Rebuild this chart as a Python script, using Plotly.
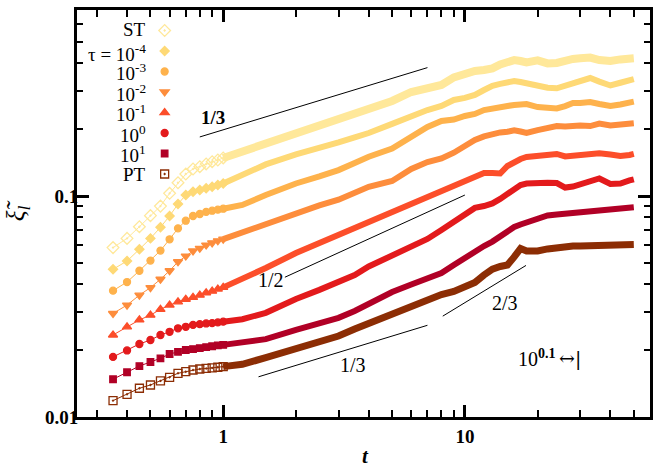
import math
import plotly.graph_objects as go

# ---------------- data ----------------
labels = ["ST", "τ = 10<sup>-4</sup>", "10<sup>-3</sup>", "10<sup>-2</sup>",
          "10<sup>-1</sup>", "10<sup>0</sup>", "10<sup>1</sup>", "PT"]

t_early = [0.35, 0.40, 0.45, 0.50, 0.55, 0.60, 0.65, 0.70, 0.75, 0.80, 0.85, 0.90, 0.95, 1.00]
t_late = [1.0, 1.2, 1.5, 2, 2.5, 3, 3.5, 4, 5, 6, 7, 8, 9, 10, 11, 12, 13, 14, 15, 16, 17, 18,
          20, 22, 24, 26, 28, 30, 33, 36, 40, 44, 48, 50]

st_early = [0.0584, 0.0643, 0.0726, 0.0815, 0.0900, 0.1028, 0.1148, 0.1257, 0.1325, 0.1357, 0.1396, 0.1429, 0.1455, 0.1486]
m4_early = [0.0466, 0.0508, 0.0574, 0.0643, 0.0722, 0.0812, 0.0920, 0.1010, 0.1046, 0.1064, 0.1083, 0.1102, 0.1121, 0.1139]
m3_early = [0.0373, 0.0408, 0.0459, 0.0510, 0.0566, 0.0637, 0.0714, 0.0773, 0.0812, 0.0829, 0.0847, 0.0858, 0.0867, 0.0876]
m2_early = [0.0294, 0.0321, 0.0356, 0.0385, 0.0420, 0.0459, 0.0504, 0.0535, 0.0564, 0.0580, 0.0600, 0.0614, 0.0627, 0.0638]
m1_early = [0.0235, 0.0256, 0.0275, 0.0289, 0.0307, 0.0321, 0.0332, 0.0341, 0.0348, 0.0356, 0.0365, 0.0371, 0.0379, 0.0386]
p0_early = [0.0187, 0.0200, 0.0214, 0.0223, 0.0235, 0.0243, 0.0252, 0.0256, 0.0261, 0.0263, 0.0265, 0.0266, 0.0268, 0.0270]
p1_early = [0.01482, 0.01594, 0.0170, 0.01774, 0.01843, 0.01928, 0.01973, 0.0201, 0.0203, 0.0205, 0.0207, 0.0209, 0.0211, 0.0212]
pt_early = [0.01186, 0.01267, 0.01349, 0.01396, 0.01456, 0.01512, 0.01577, 0.01603, 0.01632, 0.01649, 0.01658, 0.01667, 0.01679, 0.0169]

st_late = [0.1486, 0.159, 0.1715, 0.1906, 0.207, 0.221, 0.234, 0.2467, 0.2692, 0.2955, 0.306, 0.318, 0.3443, 0.3587,
           0.368, 0.3716, 0.378, 0.394, 0.404, 0.412, 0.408, 0.402, 0.411, 0.398, 0.400, 0.412, 0.417, 0.420,
           0.423, 0.412, 0.408, 0.415, 0.423, 0.420]
m4_late = [0.1139, 0.1245, 0.139, 0.1544, 0.1641, 0.1749, 0.1842, 0.1928, 0.2119, 0.2302, 0.2449, 0.2555, 0.2719, 0.278,
           0.2868, 0.3017, 0.3153, 0.3215, 0.328, 0.3314, 0.328, 0.3235, 0.318, 0.309, 0.3072, 0.3153, 0.3235, 0.3314,
           0.3418, 0.3292, 0.3163, 0.3254, 0.3325, 0.338]
m3_late = [0.0876, 0.0911, 0.101, 0.1139, 0.1226, 0.131, 0.141, 0.1505, 0.164, 0.184, 0.2053, 0.2185, 0.2219, 0.2302,
           0.235, 0.2449, 0.250, 0.252, 0.2555, 0.258, 0.261, 0.2608, 0.2527, 0.2493, 0.249, 0.2553, 0.2636, 0.2636,
           0.2663, 0.2608, 0.2553, 0.2594, 0.265, 0.2672]
m2_late = [0.0638, 0.0685, 0.0746, 0.0823, 0.0906, 0.0962, 0.104, 0.110, 0.117, 0.1325, 0.1424, 0.148, 0.157, 0.169,
           0.1792, 0.186, 0.191, 0.194, 0.1953, 0.1982, 0.1958, 0.1928, 0.1988, 0.2030, 0.2073, 0.2062, 0.2084, 0.2084,
           0.2073, 0.2128, 0.2084, 0.2117, 0.2117, 0.2132]
m1_late = [0.0386, 0.042, 0.0472, 0.0552, 0.0613, 0.0666, 0.0716, 0.0763, 0.0847, 0.0925, 0.099, 0.1053, 0.1110, 0.1169,
           0.1232, 0.1271, 0.1271, 0.1264, 0.1367, 0.143, 0.147, 0.1501, 0.1525, 0.1541, 0.155, 0.151, 0.1517, 0.1533,
           0.155, 0.156, 0.1541, 0.1517, 0.1533, 0.155]
p0_late = [0.0270, 0.0277, 0.0296, 0.0342, 0.0376, 0.0408, 0.0439, 0.0480, 0.0535, 0.0588, 0.0639, 0.0702, 0.0763, 0.0812,
           0.0883, 0.0901, 0.0926, 0.097, 0.1026, 0.108, 0.1121, 0.1139, 0.1151, 0.1148, 0.1145, 0.1092, 0.1103, 0.1133,
           0.117, 0.12, 0.1133, 0.1139, 0.1176, 0.119]
p1_late = [0.0212, 0.0218, 0.0225, 0.0248, 0.0266, 0.0281, 0.0302, 0.0326, 0.0368, 0.0398, 0.0424, 0.0448, 0.0487, 0.0527,
           0.0561, 0.0594, 0.0622, 0.0659, 0.0698, 0.0724, 0.0743, 0.0759, 0.0787, 0.0816, 0.0825, 0.0832, 0.0842, 0.0849,
           0.0854, 0.086, 0.0869, 0.0878, 0.0884, 0.0889]
pt_late = [0.0169, 0.01732, 0.01855, 0.0204, 0.0220, 0.02325, 0.0250, 0.02655, 0.02924, 0.0321, 0.03436, 0.03583, 0.03697, 0.03855,
           0.0406, 0.0439, 0.0467, 0.048, 0.0487, 0.053, 0.0579, 0.0564, 0.0564, 0.0576, 0.0585, 0.0591, 0.0594, 0.0594,
           0.0597, 0.0598, 0.0600, 0.0600, 0.0603, 0.0603]

early = [st_early, m4_early, m3_early, m2_early, m1_early, p0_early, p1_early, pt_early]
late = [st_late, m4_late, m3_late, m2_late, m1_late, p0_late, p1_late, pt_late]

# guide lines (slopes 1/3, 1/2, 1/3, 2/3)
guide_t = [[0.8, 7.0], [1.8, 10.0], [1.4, 7.0], [8.1, 17.9]]
guide_y = [[0.185, 0.381], [0.0429, 0.101], [0.0152, 0.026], [0.0286, 0.0485]]

# ---------------- styles ----------------
colors = ["#FFE89A", "#FED976", "#FEB24C", "#FD8D3C", "#FC4E2A", "#E31A1C", "#B10026", "#8C2D04"]
symbols = ["diamond-open-dot", "diamond", "circle", "triangle-down", "triangle-up", "circle", "square", "square-open-dot"]
msizes = [9, 7, 7, 8, 8, 7, 6.5, 8]
bandw = [8, 6, 6, 6, 6, 6, 6, 7]
FONT = "Liberation Serif"

fig = go.Figure()
for i in range(8):
    grp = "g%d" % i
    fig.add_trace(go.Scatter(x=t_late, y=late[i], mode="lines", showlegend=False, legendgroup=grp,
                             name=labels[i], line=dict(color=colors[i], width=bandw[i]), hoverinfo="skip"))
    fig.add_trace(go.Scatter(x=t_early, y=early[i], mode="lines", showlegend=False, legendgroup=grp,
                             name=labels[i], line=dict(color=colors[i], width=1), hoverinfo="skip"))
    fig.add_trace(go.Scatter(x=t_early, y=early[i], mode="markers", name=labels[i], legendgroup=grp,
                             marker=dict(symbol=symbols[i], size=msizes[i], color=colors[i],
                                         line=dict(color=colors[i], width=1.3))))

for gt, gy in zip(guide_t, guide_y):
    fig.add_trace(go.Scatter(x=gt, y=gy, mode="lines", showlegend=False,
                             line=dict(color="black", width=1), hoverinfo="skip"))

L, R, T, B = 77, 1, 10, 51
W, H = 654, 468
pw, ph = W - L - R, H - T - B
ROW = 20.5  # legend row pitch in px
row_nudge = [-2, 1, 0, 0, 0, 0, 0, 0]  # tiny offsets to keep label boxes apart


def px_x(p):
    return (p - L) / pw


def px_y(p):
    return (H - B - p) / ph


def ax(t):
    return math.log10(t)


ann = []
# legend labels, right-aligned to the left of the legend symbols
for i, lab in enumerate(labels):
    ann.append(dict(xref="paper", yref="paper", x=px_x(148), y=px_y(31 + ROW * i + row_nudge[i]),
                    xanchor="right", yanchor="middle", text=lab, showarrow=False,
                    font=dict(family=FONT, size=19, color="black")))

ann += [
    dict(x=ax(0.91), y=ax(0.2255), text="<b>1/3</b>", showarrow=False, xanchor="center", yanchor="middle",
         font=dict(family=FONT, size=19, color="black")),
    dict(x=ax(1.577), y=ax(0.0417), text="1/2", showarrow=False, xanchor="center", yanchor="middle",
         font=dict(family=FONT, size=20, color="black")),
    dict(x=ax(3.43), y=ax(0.0172), text="1/3", showarrow=False, xanchor="center", yanchor="middle",
         font=dict(family=FONT, size=20, color="black")),
    dict(x=ax(14.6), y=ax(0.0328), text="2/3", showarrow=False, xanchor="center", yanchor="middle",
         font=dict(family=FONT, size=20, color="black")),
    dict(xref="paper", yref="paper", x=px_x(561), y=px_y(358), text="10<sup><b>0.1</b></sup>",
         showarrow=False, xanchor="right", yanchor="middle",
         font=dict(family=FONT, size=20, color="black")),
    dict(xref="paper", yref="paper", x=px_x(560), y=px_y(358), text="↔|",
         showarrow=False, xanchor="left", yanchor="middle",
         font=dict(family="DejaVu Serif", size=19, color="black")),
    dict(xref="paper", yref="paper", x=px_x(367), y=px_y(456), text="<b><i>t</i></b>", showarrow=False,
         xanchor="center", yanchor="middle", font=dict(family=FONT, size=21, color="black")),
    dict(xref="paper", yref="paper", x=px_x(17), y=px_y(211), text="<i>ξ̃</i><sub><i>l</i></sub>",
         showarrow=False, textangle=-90, xanchor="center", yanchor="middle",
         font=dict(family=FONT, size=25, color="black")),
]

x_minor = [0.3, 0.4, 0.5, 0.6, 0.7, 0.8, 0.9, 2, 3, 4, 5, 6, 7, 8, 9, 20, 30, 40, 50]
y_minor = [0.02, 0.03, 0.04, 0.05, 0.06, 0.07, 0.08, 0.09, 0.2, 0.3, 0.4, 0.5, 0.6]

axis_common = dict(type="log", showline=True, linewidth=3, linecolor="black", mirror="allticks",
                   ticks="inside", ticklen=12, tickwidth=2.5, tickcolor="black", showgrid=False,
                   zeroline=False, tickfont=dict(family=FONT, size=19, color="black", weight="bold"))

fig.update_layout(
    width=W, height=H, margin=dict(l=L, r=R, t=T, b=B),
    paper_bgcolor="white", plot_bgcolor="white",
    xaxis=dict(range=[-0.605, 1.766], tickvals=[1, 10], ticktext=["1", "10"],
               minor=dict(tickmode="array", tickvals=x_minor, ticks="inside", ticklen=7, tickwidth=2,
                          tickcolor="black", showgrid=False), **axis_common),
    yaxis=dict(range=[-2, -0.1584], tickvals=[0.01, 0.1], ticktext=["0.01", "0.1"], ticklabelstandoff=-8,
               minor=dict(tickmode="array", tickvals=y_minor, ticks="inside", ticklen=6, tickwidth=2,
                          tickcolor="black", showgrid=False), **axis_common),
    legend=dict(x=px_x(145), y=px_y(16), xanchor="left", yanchor="top", bgcolor="rgba(0,0,0,0)",
                traceorder="grouped", tracegroupgap=1.5,
                font=dict(family=FONT, size=8, color="rgba(0,0,0,0)"), itemclick=False),
    annotations=ann,
    showlegend=True,
)

fig.write_html("out.html")
